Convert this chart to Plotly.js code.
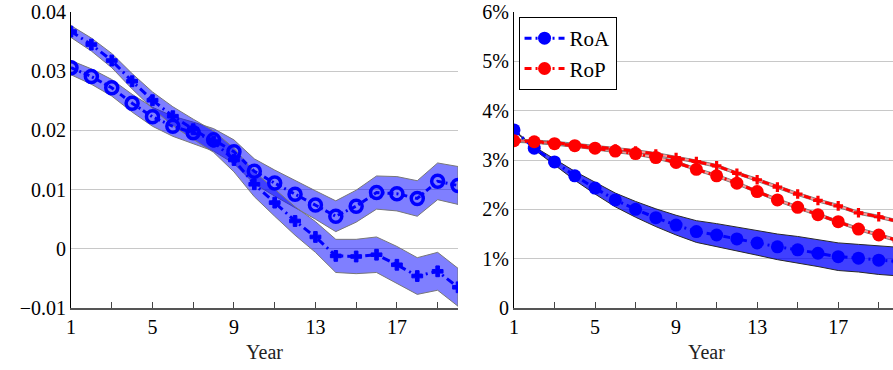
<!DOCTYPE html>
<html>
<head>
<meta charset="utf-8">
<script src="https://cdn.plot.ly/plotly-3.0.1.min.js"></script>
<style>
html,body{margin:0;padding:0;overflow:hidden;background:#fff;}
#chart{width:900px;height:370px;}
</style>
</head>
<body>
<div id="chart"></div>
<script>
// ---------- data ----------
const years = [1,2,3,4,5,6,7,8,9,10,11,12,13,14,15,16,17,18,19,20];

// left panel: two estimates with bands
const leftCircle = [0.0306,0.0291,0.0272,0.0246,0.0223,0.0207,0.0196,0.0184,0.0164,0.0131,0.0111,0.0092,0.0074,0.0055,0.0072,0.0095,0.0093,0.0085,0.0114,0.0107];
const leftCircleHalf = [0.0012,0.0013,0.0014,0.0015,0.0016,0.0017,0.0018,0.0019,0.0020,0.0021,0.0022,0.0023,0.0024,0.0026,0.0027,0.0028,0.0029,0.0030,0.0031,0.0032];
const leftPlus = [0.0367,0.0345,0.0318,0.0283,0.0251,0.0224,0.0202,0.0181,0.0150,0.0109,0.0078,0.0047,0.0020,-0.0012,-0.0013,-0.0010,-0.0027,-0.0046,-0.0038,-0.0065];
const leftPlusHalf = [0.0010,0.0011,0.0012,0.0013,0.0014,0.0016,0.0017,0.0018,0.0020,0.0021,0.0023,0.0024,0.0026,0.0028,0.0029,0.0030,0.0031,0.0031,0.0032,0.0032];

// right panel (percent)
const roa = [3.61,3.24,2.96,2.68,2.43,2.19,2.00,1.83,1.68,1.55,1.48,1.40,1.32,1.24,1.18,1.11,1.04,1.01,0.97,0.94];
const roaHalf = [0.00,0.03,0.06,0.09,0.12,0.14,0.16,0.18,0.20,0.22,0.23,0.24,0.25,0.26,0.27,0.27,0.28,0.28,0.29,0.29];
const ropCircle = [3.39,3.37,3.33,3.29,3.24,3.18,3.13,3.05,2.95,2.81,2.68,2.53,2.36,2.19,2.04,1.89,1.75,1.60,1.48,1.36];
const ropPlus = [3.40,3.38,3.35,3.31,3.27,3.22,3.18,3.12,3.05,2.97,2.88,2.73,2.60,2.45,2.31,2.18,2.07,1.93,1.85,1.75];
const ropHalf = [0.03,0.03,0.03,0.03,0.03,0.03,0.03,0.03,0.03,0.03,0.03,0.03,0.03,0.03,0.03,0.03,0.03,0.03,0.03,0.03];

const xTickVals = [1,3,5,7,9,11,13,15,17,19];
const xTickText = ['1','','5','','9','','13','','17',''];
const leftTickVals = [-0.01,0,0.01,0.02,0.03,0.04];
const leftTickText = ['\u22120.01','0','0.01','0.02','0.03','0.04'];
const rightTickVals = [0,1,2,3,4,5,6];
const rightTickText = ['0','1%','2%','3%','4%','5%','6%'];

// ---------- helpers ----------
function band(center, half, xa, ya, fill, lineColor){
  const up = center.map((v,i)=>v+half[i]);
  const lo = center.map((v,i)=>v-half[i]);
  return {
    x: years.concat(years.slice().reverse()),
    y: up.concat(lo.slice().reverse()),
    xaxis: xa, yaxis: ya,
    type:'scatter', mode:'lines', fill:'toself',
    fillcolor: fill, line:{color: lineColor, width:1},
    hoverinfo:'skip', showlegend:false
  };
}
function series(vals, xa, ya, color, dash, symbol, size, name, showlegend, mline){
  return {
    x: years, y: vals, xaxis: xa, yaxis: ya,
    type:'scatter', mode:'lines+markers', name: name, showlegend: showlegend,
    line:{color: color, width:3, dash: dash},
    marker:{color: color, symbol: symbol, size: size, line:{color: color, width: mline}},
    hoverinfo:'skip'
  };
}

const traces = [
  band(leftCircle, leftCircleHalf, 'x','y','rgba(0,0,255,0.5)','rgb(120,120,120)'),
  band(leftPlus, leftPlusHalf, 'x','y','rgba(0,0,255,0.5)','rgb(120,120,120)'),
  series(leftCircle,'x','y','#0000ff','6px,3px,2px,3px','circle-open',12,'',false,3.5),
  series(leftPlus,'x','y','#0000ff','8px,4px,2px,4px','cross',9,'',false,1),

  band(roa, roaHalf, 'x2','y2','rgba(0,0,255,0.75)','rgb(40,40,40)'),
  band(ropCircle, ropHalf, 'x2','y2','rgba(255,0,0,0.4)','rgb(130,130,130)'),
  band(ropPlus, ropHalf, 'x2','y2','rgba(255,0,0,0.4)','rgb(130,130,130)'),
  series(roa,'x2','y2','#0000ff','7px,4px,2px,4px','circle',13,'RoA',true,0),
  series(ropCircle,'x2','y2','#ff0000','7px,4px,2px,4px','circle',13,'RoP',true,0),
  series(ropPlus,'x2','y2','#ff0000','7px,4px','cross',8,'',false,0)
];

const FONT = '"Liberation Serif", "DejaVu Serif", serif';
const xCommon = {
  range:[1,20], tickvals: xTickVals, ticktext: xTickText,
  ticks:'inside', ticklen:6, tickcolor:'#444', tickwidth:1,
  showline:true, linecolor:'#555', linewidth:2, showgrid:false, zeroline:false,
  tickfont:{family:FONT,size:20,color:'#000'},
  title:{text:'Year', font:{family:FONT,size:20,color:'#222'}, standoff:8}
};
const yCommon = {
  ticks:'', showline:true, linecolor:'#000', linewidth:1,
  showgrid:true, gridcolor:'#c8c8c8', gridwidth:1, zeroline:false,
  tickfont:{family:FONT,size:20,color:'#000'}
};

const layout = {
  width:900, height:370,
  margin:{l:71, r:1, t:12, b:62},
  paper_bgcolor:'#fff', plot_bgcolor:'#fff',
  font:{family:FONT,size:20,color:'#000'},
  showlegend:true,
  xaxis: Object.assign({}, xCommon, {domain:[0, 0.4674], anchor:'y'}),
  xaxis2: Object.assign({}, xCommon, {domain:[0.535, 1], anchor:'y2'}),
  yaxis: Object.assign({}, yCommon, {range:[-0.01,0.04], tickvals:leftTickVals, ticktext:leftTickText, anchor:'x'}),
  yaxis2: Object.assign({}, yCommon, {range:[0,6], tickvals:rightTickVals, ticktext:rightTickText, anchor:'x2'}),
  legend:{x:0.5405, y:0.983, xanchor:'left', yanchor:'top',
    bgcolor:'#fff', bordercolor:'#000', borderwidth:1,
    font:{family:FONT,size:21,color:'#000'}, tracegroupgap:0, itemwidth:40}
};

Plotly.newPlot('chart', traces, layout, {staticPlot:true, displayModeBar:false});
</script>
</body>
</html>
